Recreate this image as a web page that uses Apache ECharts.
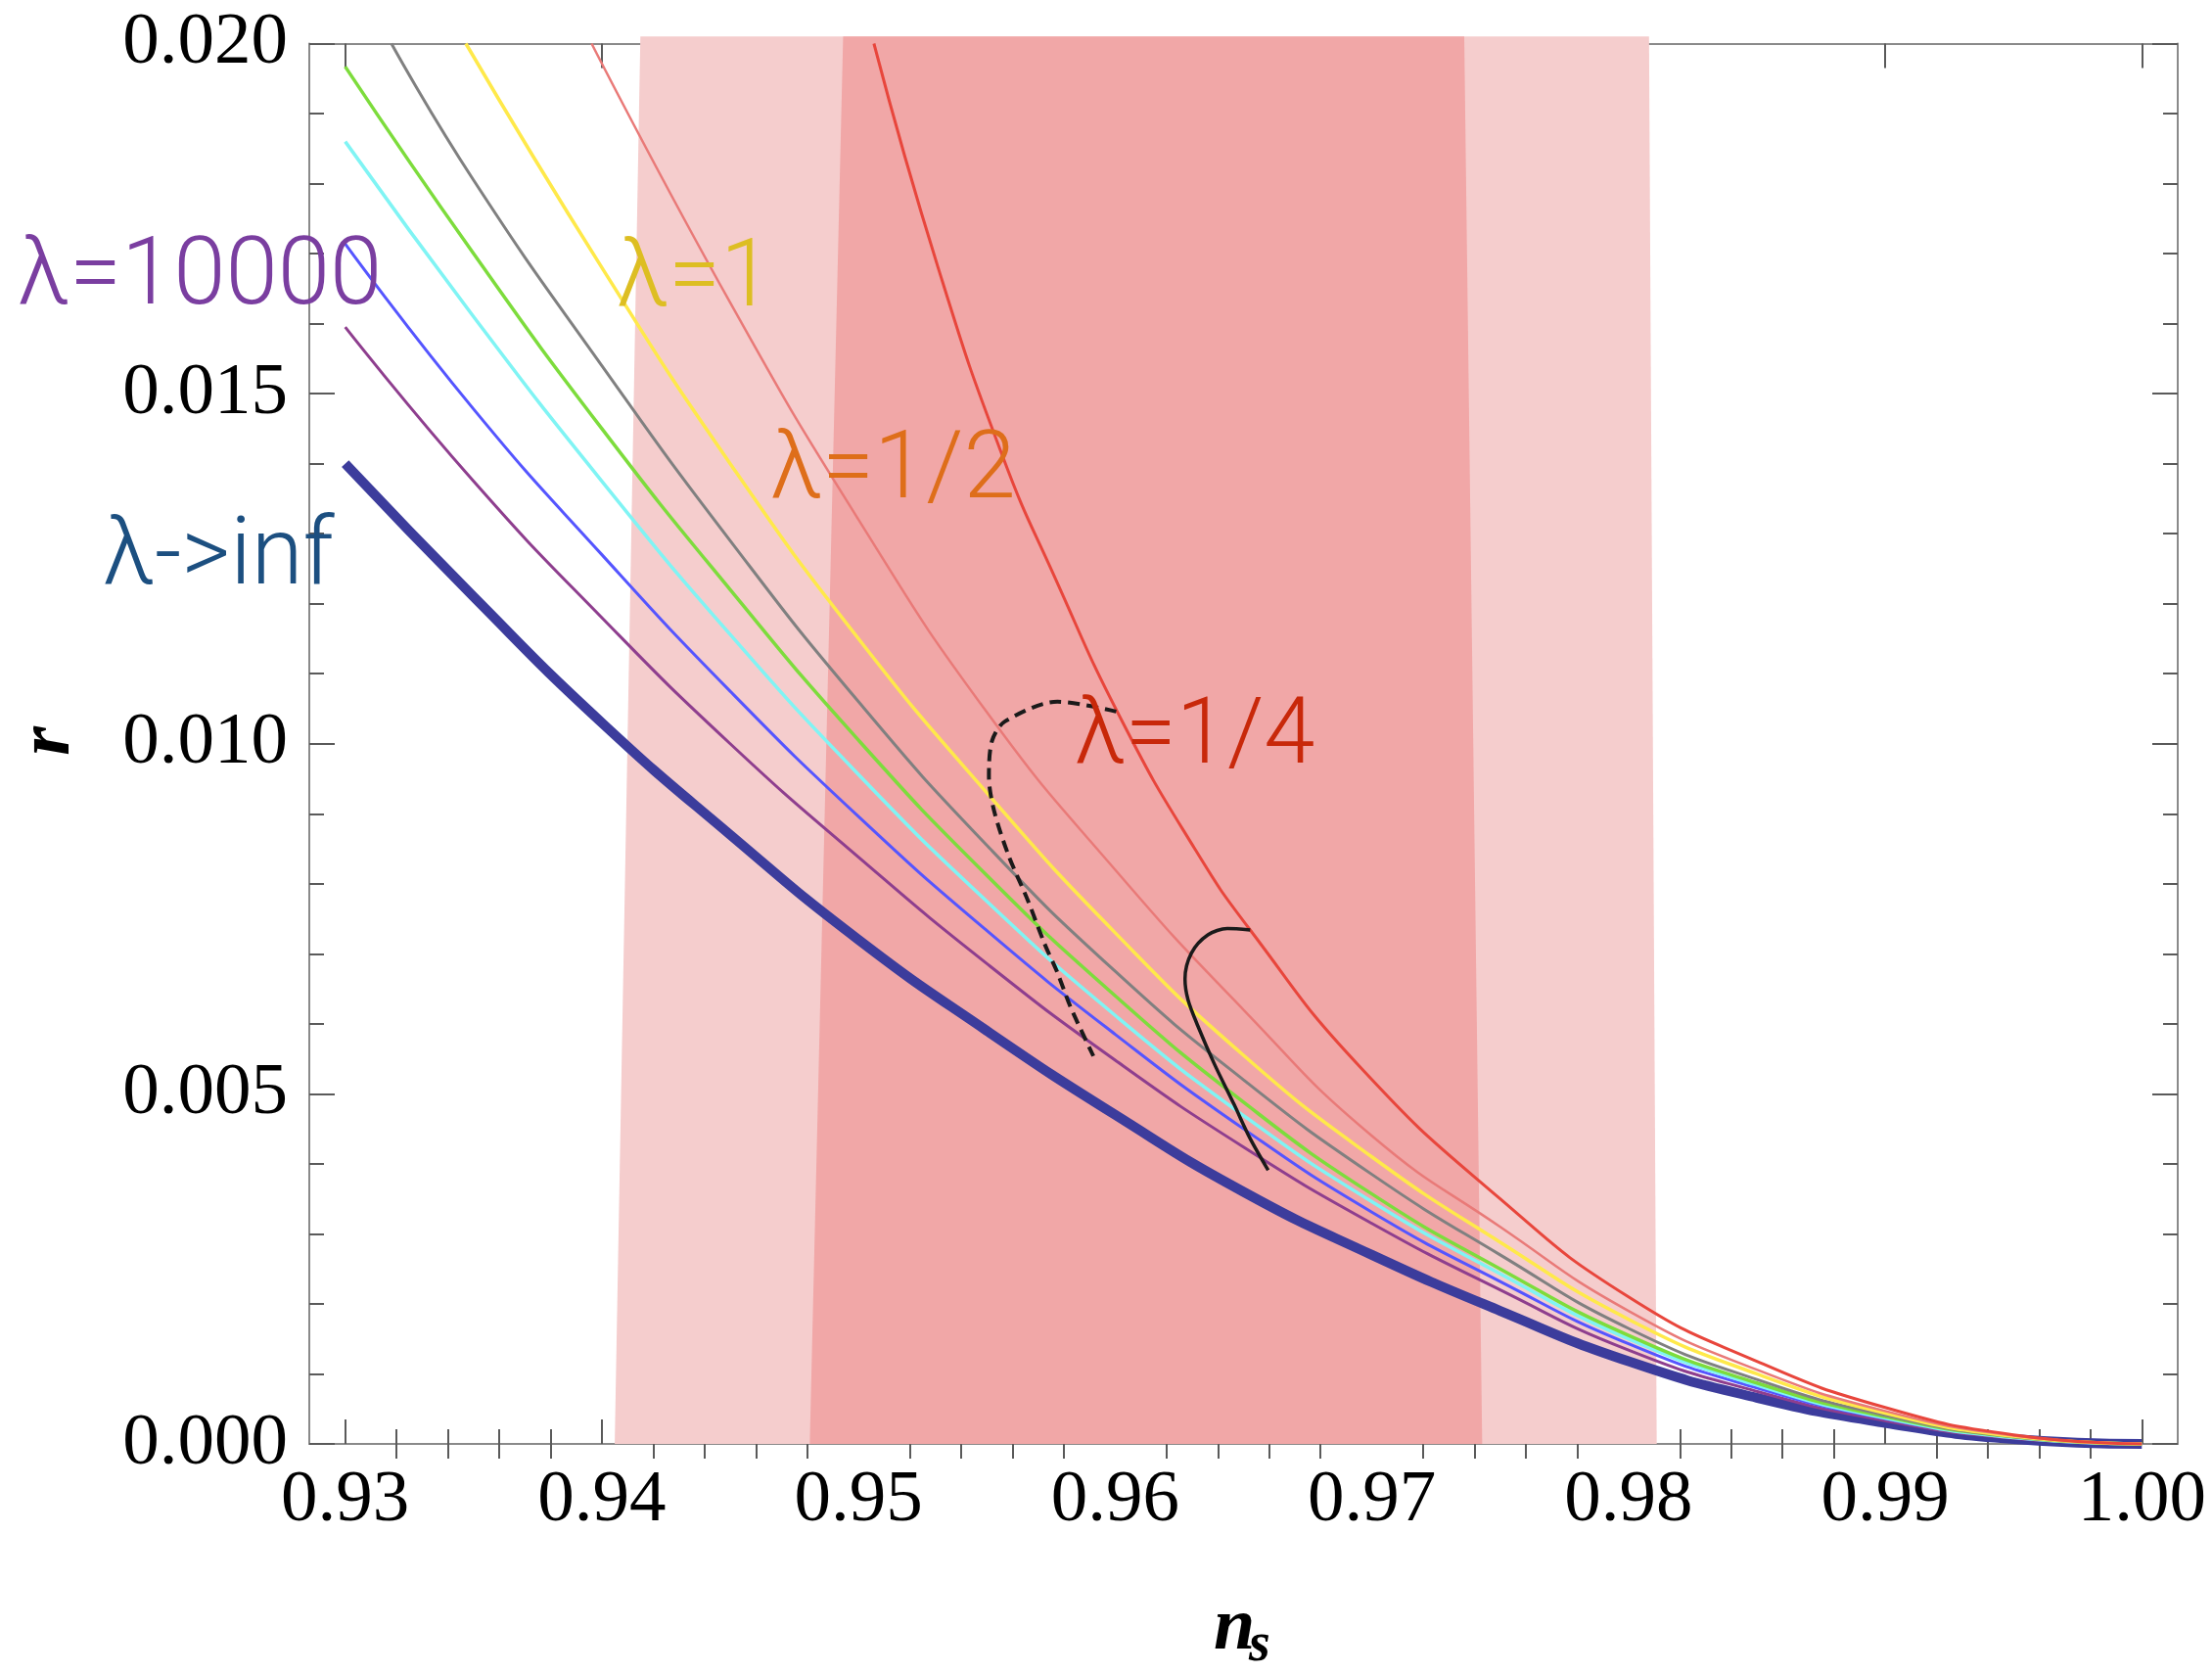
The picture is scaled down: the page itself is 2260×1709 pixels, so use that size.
<!DOCTYPE html>
<html>
<head>
<meta charset="utf-8">
<script src="https://cdn.jsdelivr.net/npm/echarts@6/dist/echarts.min.js"></script>
<style>
  html, body { margin: 0; padding: 0; background: #fff; }
  #chart { width: 2260px; height: 1709px; }
</style>
</head>
<body>
<div id="chart"></div>
<script>
// tick labels
const xMajor = [0.93, 0.94, 0.95, 0.96, 0.97, 0.98, 0.99, 1.00];

// n_s samples shared by the curves that start at the left edge
const nsGrid = [0.93, 0.935, 0.94, 0.945, 0.95, 0.955, 0.96, 0.965, 0.97, 0.975, 0.98, 0.985, 0.99, 0.995, 1.0];
const rInf   = [0.0140, 0.0121, 0.0103, 0.0087, 0.0072, 0.0059, 0.0047, 0.0036, 0.0027, 0.0019, 0.00118, 0.00066, 0.0003, 0.00007, 0];
const r10000 = [0.01595, 0.01375, 0.0118, 0.0100, 0.00838, 0.00686, 0.00548, 0.00424, 0.00315, 0.0022, 0.00134, 0.00075, 0.00033, 0.00008, 0];
const rBlue  = [0.01714, 0.01478, 0.0127, 0.01075, 0.00896, 0.00733, 0.00585, 0.0045, 0.00331, 0.00232, 0.00143, 0.0008, 0.00036, 0.00009, 0];
const rCyan  = [0.0186, 0.0161, 0.01375, 0.01156, 0.00956, 0.00775, 0.00612, 0.00469, 0.00346, 0.00243, 0.0015, 0.00084, 0.00037, 0.00009, 0];
const rGreen = [0.01967, 0.0170, 0.0145, 0.0122, 0.01005, 0.00812, 0.0064, 0.00488, 0.00357, 0.0025, 0.00155, 0.00087, 0.00039, 0.0001, 0];

// curves that enter through the top of the frame
const nsGray = [0.9318, 0.935, 0.94, 0.945, 0.95, 0.955, 0.96, 0.965, 0.97, 0.975, 0.98, 0.985, 0.99, 0.995, 1.0];
const rGray  = [0.0200, 0.01805, 0.0154, 0.0129, 0.0106, 0.00855, 0.00675, 0.0052, 0.00385, 0.0027, 0.00165, 0.00092, 0.00041, 0.0001, 0];
const nsOne  = [0.9347, 0.94, 0.945, 0.95, 0.955, 0.96, 0.965, 0.97, 0.975, 0.98, 0.985, 0.99, 0.995, 1.0];
const rOne   = [0.0200, 0.0168, 0.0140, 0.0115, 0.0093, 0.0073, 0.00555, 0.0041, 0.00288, 0.00178, 0.001, 0.00044, 0.00011, 0];
const nsHalf = [0.9396, 0.945, 0.95, 0.955, 0.96, 0.965, 0.97, 0.975, 0.98, 0.985, 0.99, 0.995, 1.0];
const rHalf  = [0.0200, 0.0163, 0.0132, 0.01045, 0.0082, 0.0062, 0.0044, 0.0031, 0.0019, 0.00106, 0.00047, 0.00012, 0];
const nsQuarter = [0.9506, 0.9531, 0.95562, 0.95762, 0.9603, 0.9631, 0.96526, 0.9695, 0.975, 0.98, 0.985, 0.99, 0.995, 1.0];
const rQuarter  = [0.0200, 0.0168, 0.0141, 0.0124, 0.0103, 0.0085, 0.00734, 0.0054, 0.0035, 0.0021, 0.00118, 0.00052, 0.00013, 0];

// black trajectories
const nsDashed = [0.96004, 0.95775, 0.95571, 0.9552, 0.95508, 0.95527, 0.95584, 0.9566, 0.95724, 0.95775, 0.95826, 0.95915];
const rDashed  = [0.01046, 0.0106, 0.01032, 0.01004, 0.00953, 0.00906, 0.00841, 0.00776, 0.00715, 0.00673, 0.00624, 0.00554];
const nsSolid  = [0.96526, 0.96437, 0.96361, 0.96297, 0.96272, 0.96284, 0.96322, 0.96386, 0.96463, 0.96526, 0.96596];
const rSolid   = [0.00734, 0.00736, 0.00727, 0.00701, 0.00664, 0.00634, 0.00597, 0.00543, 0.00485, 0.00436, 0.00391];

// Planck bands (corners: top-left, top-right, bottom-right, bottom-left)
const band2sigma = [[0.9415, 0.0201], [0.9808, 0.0201], [0.9811, 0], [0.9405, 0]];
const band1sigma = [[0.9494, 0.0201], [0.9736, 0.0201], [0.9743, 0], [0.9481, 0]];

const pairs = (xs, ys) => xs.map((x, i) => [x, ys[i]]);

const xMinor = [];
for (let k = 1; k < 35; k++) {
  if (k % 5 !== 0) xMinor.push(Math.round((0.93 + 0.002 * k) * 1000) / 1000);
}

const chart = echarts.init(document.getElementById("chart"));

const frameLine = { show: true, onZero: false, lineStyle: { color: "#8a8a8a", width: 2 } };
const tickStyle = { color: "#5a5a5a", width: 2 };
const tickFont = { fontFamily: "Liberation Serif", fontSize: 75, color: "#000" };
const X_MIN = 0.9286, X_MAX = 1.0014;

function xAx(position, ticks, len, withLine, withLabel) {
  return {
    type: "value", min: X_MIN, max: X_MAX, position: position,
    axisLine: withLine ? frameLine : { show: false },
    axisTick: { show: true, inside: true, length: len, customValues: ticks, lineStyle: tickStyle },
    axisLabel: withLabel
      ? Object.assign({ show: true, customValues: ticks, margin: 21, formatter: (v) => v.toFixed(2) }, tickFont)
      : { show: false },
    splitLine: { show: false },
  };
}

function yAx(position, withLabel) {
  return {
    type: "value", min: 0, max: 0.02, interval: 0.005, position: position,
    axisLine: frameLine,
    axisTick: { show: true, inside: true, length: 26, lineStyle: tickStyle },
    minorTick: { show: true, splitNumber: 5, length: 15, lineStyle: tickStyle },
    axisLabel: withLabel
      ? Object.assign({ show: true, margin: 22, formatter: (v) => v.toFixed(3) }, tickFont)
      : { show: false },
    splitLine: { show: false },
  };
}

function band(data, color) {
  return {
    type: "custom", xAxisIndex: 0, yAxisIndex: 0, z: 1, silent: true,
    data: [0],
    renderItem: (params, api) => ({
      type: "polygon",
      shape: { points: data.map((p) => api.coord(p)) },
      style: { fill: color },
    }),
  };
}

function curve(xs, ys, color, width, extra) {
  return Object.assign({
    type: "line", xAxisIndex: 0, yAxisIndex: 0, z: 3,
    data: pairs(xs, ys),
    showSymbol: false, smooth: 0.5, silent: true,
    lineStyle: { color: color, width: width },
  }, extra || {});
}

function label(text, x, y, color, size) {
  return {
    type: "text", x: x, y: y, z: 100,
    style: { text: text, fill: color, fontFamily: "Roboto", fontWeight: 300, fontSize: size,
             textAlign: "left", textVerticalAlign: "middle" },
  };
}

chart.setOption({
  animation: false,
  backgroundColor: "#fff",
  grid: { left: 316, right: 35, top: 44.5, bottom: 234, containLabel: false },
  xAxis: [
    xAx("bottom", xMajor, 25, true, true),
    xAx("bottom", xMinor, 15, false, false),
    xAx("top", xMajor, 25, true, false),
    xAx("top", xMinor, 15, false, false),
  ],
  yAxis: [yAx("left", true), yAx("right", false)],
  series: [
    band(band2sigma, "#f5cdcd"),
    band(band1sigma, "#f1a7a7"),
    curve(nsGrid, rInf, "#3c3c9c", 10),
    curve(nsGrid, r10000, "#8e3e8e", 3),
    curve(nsGrid, rBlue, "#5555ff", 3),
    curve(nsGrid, rCyan, "#80f4f4", 3.5),
    curve(nsGrid, rGreen, "#7ddc3c", 3.5),
    curve(nsGray, rGray, "#808080", 3),
    curve(nsOne, rOne, "#ffe94a", 3.5),
    curve(nsHalf, rHalf, "#e97a78", 2.5),
    curve(nsQuarter, rQuarter, "#e8463c", 3),
    curve(nsDashed, rDashed, "#1a1a1a", 4, {
      smooth: 0.3,
      lineStyle: { color: "#1a1a1a", width: 4, type: [12, 7] },
    }),
    curve(nsSolid, rSolid, "#1a1a1a", 3.5, { smooth: 0.3 }),
  ],
  graphic: [
    label("λ=10000", 18, 286, "#7a3ea0", 96),
    label("λ=1", 630, 288, "#ddbe22", 96),
    label("λ=1/2", 787, 484, "#de6e1a", 96),
    label("λ->inf", 105, 572, "#1c4f80", 96),
    label("λ=1/4", 1098, 755, "#c8280a", 94),
    { type: "text", x: 50, y: 757, rotation: Math.PI / 2, z: 100,
      style: { text: "r", fill: "#000", font: "italic bold 76px 'Liberation Serif'", textAlign: "center", textVerticalAlign: "middle" } },
    { type: "text", x: 1240, y: 1664, z: 100,
      style: { text: "n", fill: "#000", font: "italic bold 76px 'Liberation Serif'", textAlign: "left", textVerticalAlign: "middle" } },
    { type: "text", x: 1276, y: 1682, z: 100,
      style: { text: "s", fill: "#000", font: "italic bold 56px 'Liberation Serif'", textAlign: "left", textVerticalAlign: "middle" } },
  ],
});
</script>
</body>
</html>
